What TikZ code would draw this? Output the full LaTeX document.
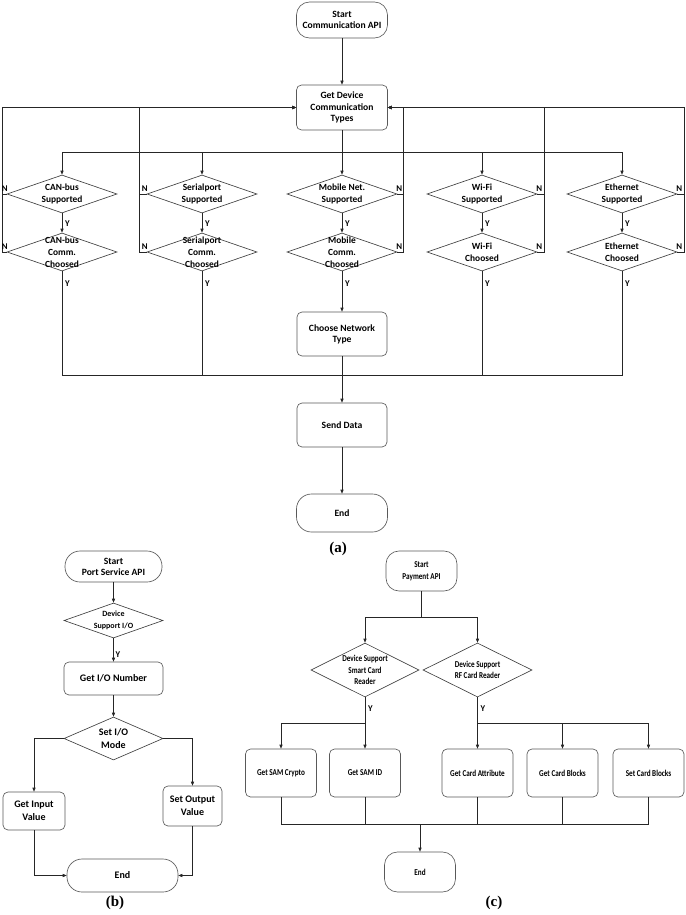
\documentclass[tikz,border=0pt]{standalone}
\usepackage{fontspec}
\setmainfont{Carlito}
\newfontfamily\capfont{Liberation Serif}
\newfontfamily\condfont[FakeStretch=0.8]{Carlito}
\usetikzlibrary{shapes.geometric,arrows.meta}
\begin{document}
\begin{tikzpicture}[x=1pt,y=-1pt,
  line/.style={draw=black!85, line width=0.65pt},
  arr/.style={line, -{Triangle[length=4pt,width=3.2pt]}},
  proc/.style={draw=black!65, line width=0.65pt, rounded corners=5pt, inner sep=0pt, align=center, font=\bfseries\fontsize{9.6}{11.2}\selectfont},
  term/.style={proc, rounded corners=13pt},
  procc/.style={proc, font=\condfont\bfseries\fontsize{9}{12}\selectfont, minimum width=71pt, minimum height=48pt},
  dia/.style={diamond, draw=black!75, line width=0.65pt, inner sep=0pt},
  dtext/.style={align=center, font=\bfseries\fontsize{9.4}{11.8}\selectfont, inner sep=0pt},
  dtextc/.style={align=center, font=\condfont\bfseries\fontsize{9}{11.5}\selectfont, inner sep=0pt},
  yn/.style={font=\bfseries\fontsize{8.8}{9}\selectfont, inner sep=0pt},
  captext/.style={font=\capfont\bfseries\fontsize{15}{15}\selectfont, inner sep=0pt}
]
\useasboundingbox (0,0) rectangle (685,915);

% ---------------- (a) ----------------
\node[term, minimum width=91pt, minimum height=36pt] (st) at (342,20) {Start\\Communication API};
\node[proc, minimum width=91pt, minimum height=45pt] (dev) at (342,107.5) {Get Device\\Communication\\Types};
\draw[arr] (st) -- (dev);

\foreach \i/\x in {1/62,2/202,3/342,4/482,5/622}{
  \node[dia, minimum width=110pt, minimum height=38pt] (cs\i) at (\x,194) {};
  \node[dia, minimum width=110pt, minimum height=38pt] (cc\i) at (\x,252) {};
}
\node[dtext] (ts1) at (cs1) {CAN-bus\\Supported};
\node[dtext] (ts2) at (cs2) {Serialport\\Supported};
\node[dtext] (ts3) at (cs3) {Mobile Net.\\Supported};
\node[dtext] (ts4) at (cs4) {Wi-Fi\\Supported};
\node[dtext] (ts5) at (cs5) {Ethernet\\Supported};
\node[dtext] (tc1) at (cc1) {CAN-bus\\Comm.\\Choosed};
\node[dtext] (tc2) at (cc2) {Serialport\\Comm.\\Choosed};
\node[dtext] (tc3) at (cc3) {Mobile\\Comm.\\Choosed};
\node[dtext] (tc4) at (cc4) {Wi-Fi\\Choosed};
\node[dtext] (tc5) at (cc5) {Ethernet\\Choosed};

\coordinate (hub) at (342,152);
\draw[line] (dev) -- (hub);
\foreach \i in {1,2,3,4,5}{
  \draw[arr] (hub) -| (cs\i.north);
  \draw[arr] (cs\i) -- (cc\i);
  \node[yn, anchor=west] (y\i) at ([shift={(3,10)}]cs\i.south) {Y};
  \node[yn, anchor=west] (yy\i) at ([shift={(3,12)}]cc\i.south) {Y};
}
% N feedback
\draw[arr] (cs1.west) -- ++(-4,0) |- (dev.west);
\draw[arr] (cc1.west) -- ++(-4,0) |- (dev.west);
\draw[arr] (cs2.west) -- ++(-7,0) |- (dev.west);
\draw[arr] (cc2.west) -- ++(-7,0) |- (dev.west);
\draw[arr] (cs3.east) -- ++(6,0) |- (dev.east);
\draw[arr] (cc3.east) -- ++(6,0) |- (dev.east);
\draw[arr] (cs4.east) -- ++(7,0) |- (dev.east);
\draw[arr] (cc4.east) -- ++(7,0) |- (dev.east);
\draw[arr] (cs5.east) -- ++(7,0) |- (dev.east);
\draw[arr] (cc5.east) -- ++(7,0) |- (dev.east);
\foreach \i in {1,2}{
  \node[yn, anchor=south] (ns\i) at ([shift={(-2,-2)}]cs\i.west) {N};
  \node[yn, anchor=south] (nc\i) at ([shift={(-2,-2)}]cc\i.west) {N};
}
\foreach \i in {3,4,5}{
  \node[yn, anchor=south] (ns\i) at ([shift={(2,-2)}]cs\i.east) {N};
  \node[yn, anchor=south] (nc\i) at ([shift={(2,-2)}]cc\i.east) {N};
}

\node[proc, minimum width=90pt, minimum height=44pt] (net) at (342,334) {Choose Network\\Type};
\node[proc, minimum width=90pt, minimum height=44pt] (send) at (342,425) {Send Data};
\node[term, minimum width=91pt, minimum height=38pt, rounded corners=15pt] (enda) at (342,513) {End};
\coordinate (bus) at (342,375);
\foreach \i in {1,2,4,5}{ \draw[line] (cc\i.south) |- (bus); }
\draw[arr] (cc3) -- (net);
\draw[arr] (net) -- (send);
\draw[arr] (send) -- (enda);
\node[captext] (capa) at (338,549) {(a)};

% ---------------- (b) ----------------
\node[term, minimum width=97pt, minimum height=31pt, rounded corners=15pt] (bst) at (113.5,566.5) {Start\\Port Service API};
\node[dia, minimum width=99pt, minimum height=35pt] (bd1) at (113.5,620.5) {};
\node[dtext, font=\bfseries\fontsize{8}{11.5}\selectfont] (bd1t) at (bd1) {Device\\Support I/O};
\node[proc, minimum width=99pt, minimum height=33pt, font=\bfseries\fontsize{10}{11.5}\selectfont] (bio) at (113.5,678.5) {Get I/O Number};
\node[dia, minimum width=99pt, minimum height=43pt] (bd2) at (113.5,738.5) {};
\node[dtext, font=\bfseries\fontsize{10}{12.5}\selectfont] (bd2t) at (bd2) {Set I/O\\Mode};
\node[proc, minimum width=62pt, minimum height=38pt, font=\bfseries\fontsize{10}{13}\selectfont] (bin) at (34,811) {Get Input\\Value};
\node[proc, minimum width=59pt, minimum height=40pt, font=\bfseries\fontsize{10}{13}\selectfont] (bout) at (192.5,806) {Set Output\\Value};
\node[term, minimum width=111pt, minimum height=33pt, rounded corners=15pt, font=\bfseries\fontsize{10}{11.5}\selectfont] (bend) at (122.5,875.5) {End};
\draw[arr] (bst) -- (bd1);
\draw[arr] (bd1) -- (bio);
\node[yn, anchor=west] (by) at ([shift={(2,16)}]bd1.south) {Y};
\draw[arr] (bio) -- (bd2);
\draw[arr] (bd2.west) -| (bin.north);
\draw[arr] (bd2.east) -| (bout.north);
\draw[arr] (bin.south) |- (bend.west);
\draw[arr] (bout.south) |- (bend.east);
\node[captext] (capb) at (115,903) {(b)};

% ---------------- (c) ----------------
\node[procc, rounded corners=13pt, minimum height=40pt] (cst) at (421.5,571) {Start\\Payment API};
\node[dia, minimum width=108pt, minimum height=54pt] (cd1) at (365,670) {};
\node[dia, minimum width=109pt, minimum height=54pt] (cd2) at (477.5,670) {};
\node[dtextc] (cd1t) at (cd1) {Device Support\\Smart Card\\Reader};
\node[dtextc] (cd2t) at (cd2) {Device Support\\RF Card Reader};
\coordinate (csplit) at (421.5,617);
\draw[line] (cst) -- (csplit);
\draw[arr] (csplit) -| (cd1.north);
\draw[arr] (csplit) -| (cd2.north);
\node[procc] (b1) at (281,773) {Get SAM Crypto};
\node[procc] (b2) at (365,773) {Get SAM ID};
\node[procc] (b3) at (477.5,773) {Get Card Attribute};
\node[procc] (b4) at (562.5,773) {Get Card Blocks};
\node[procc] (b5) at (648.5,773) {Set Card Blocks};
\draw[line] (cd1.south) -- ++(0,26) coordinate (s1);
\draw[line] (cd2.south) -- ++(0,26) coordinate (s2);
\node[yn, anchor=west] (cy1) at ([shift={(3,11)}]cd1.south) {Y};
\node[yn, anchor=west] (cy2) at ([shift={(3,11)}]cd2.south) {Y};
\draw[arr] (s1) -| (b1.north);
\draw[arr] (s1) -- (b2.north);
\draw[arr] (s2) -- (b3.north);
\draw[arr] (s2) -| (b4.north);
\draw[arr] (s2) -| (b5.north);
\node[procc, rounded corners=13pt, minimum height=40pt] (cend) at (420,872) {End};
\coordinate (cj) at (420,824);
\foreach \b in {b1,b2,b3,b4,b5}{ \draw[line] (\b.south) |- (cj); }
\draw[arr] (cj) -- (cend);
\node[captext] (capc) at (494,903) {(c)};
\end{tikzpicture}
\end{document}
